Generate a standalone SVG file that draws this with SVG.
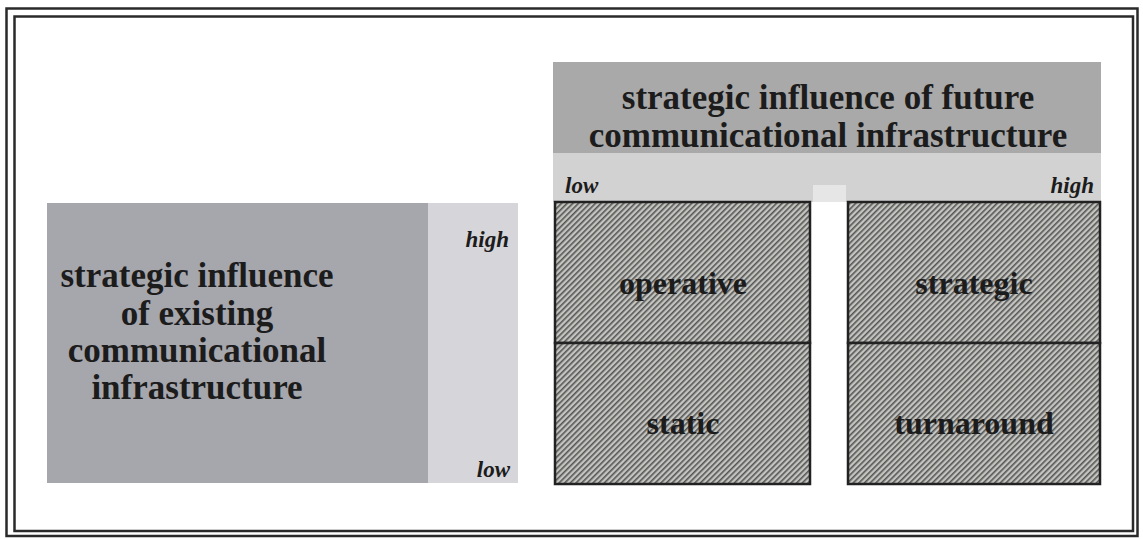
<svg xmlns="http://www.w3.org/2000/svg" width="1143" height="539" viewBox="0 0 1143 539">
  <defs>
    <!-- diagonal hatching used by the four quadrant cells -->
    <pattern id="hatch" width="4" height="4" patternUnits="userSpaceOnUse" patternTransform="rotate(45)">
      <rect width="4" height="4" fill="#c4c4c0"/>
      <rect width="1.6" height="4" fill="#555555"/>
    </pattern>
    <style>
      .title { font-family: "Liberation Serif", "Times New Roman", serif; font-weight: bold; font-size: 35px; fill: #1c1c1c; text-anchor: middle; }
      .cell { font-family: "Liberation Serif", "Times New Roman", serif; font-weight: bold; font-size: 32px; fill: #1c1c1c; text-anchor: middle; }
      .scale { font-family: "Liberation Serif", "Times New Roman", serif; font-weight: bold; font-style: italic; font-size: 23px; fill: #1c1c1c; }
      .frame { fill: none; stroke: #2a2a2a; }
      .box { fill: url(#hatch); stroke: #222; stroke-width: 2.5; }
    </style>
  </defs>

  <rect width="1143" height="539" fill="#ffffff"/>

  <!-- double frame -->
  <g id="frame">
    <rect class="frame" x="6.5" y="8.5" width="1131" height="527.5" stroke-width="2.5"/>
    <rect class="frame" x="14.5" y="16.5" width="1118.5" height="514.5" stroke-width="2.5"/>
  </g>

  <!-- vertical axis: existing infrastructure -->
  <g id="axis-existing">
    <rect x="47" y="203" width="381" height="280" fill="#a6a6ad"/>
    <rect x="428" y="203" width="90" height="280" fill="#d6d6da"/>
    <text class="title" x="197" y="287">strategic influence</text>
    <text class="title" x="197" y="325">of existing</text>
    <text class="title" x="197" y="362">communicational</text>
    <text class="title" x="197" y="399">infrastructure</text>
    <text class="scale" x="509" y="247" text-anchor="end">high</text>
    <text class="scale" x="510" y="477" text-anchor="end">low</text>
  </g>

  <!-- horizontal axis: future infrastructure -->
  <g id="axis-future">
    <rect x="553" y="62" width="548" height="91" fill="#a9a9a9"/>
    <rect x="553" y="153" width="548" height="49" fill="#d2d2d2"/>
    <rect x="813" y="185" width="33" height="17" fill="#e6e6e6"/>
    <text class="title" x="828" y="109">strategic influence of future</text>
    <text class="title" x="828" y="147">communicational infrastructure</text>
    <text class="scale" x="565" y="193">low</text>
    <text class="scale" x="1094" y="193" text-anchor="end">high</text>
  </g>

  <!-- quadrant cells -->
  <g id="cell-operative">
    <rect class="box" x="555" y="202" width="255" height="141"/>
    <text class="cell" x="683" y="294">operative</text>
  </g>
  <g id="cell-static">
    <rect class="box" x="555" y="343" width="255" height="141"/>
    <text class="cell" x="683" y="434">static</text>
  </g>
  <g id="cell-strategic">
    <rect class="box" x="848" y="202" width="252" height="141"/>
    <text class="cell" x="974" y="294">strategic</text>
  </g>
  <g id="cell-turnaround">
    <rect class="box" x="848" y="343" width="252" height="141"/>
    <text class="cell" x="974" y="434">turnaround</text>
  </g>

  <g id="connectors"/>
</svg>
